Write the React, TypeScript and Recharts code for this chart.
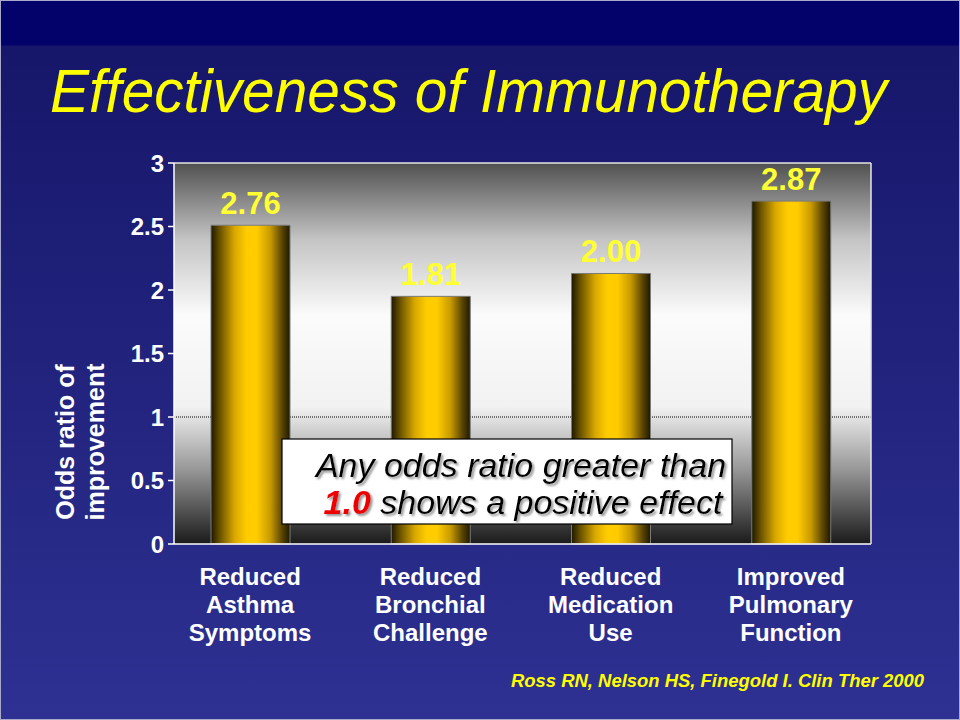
import React from "react";
import {
  BarChart,
  Bar,
  XAxis,
  YAxis,
  CartesianGrid,
  LabelList,
} from "recharts";

// ---- data ----
const categories = [
  "Reduced\nAsthma\nSymptoms",
  "Reduced\nBronchial\nChallenge",
  "Reduced\nMedication\nUse",
  "Improved\nPulmonary\nFunction",
];
// bar heights as drawn against the axis
const barHeights = [2.51, 1.95, 2.13, 2.7];
// odds ratios printed above the bars
const valueLabels = ["2.76", "1.81", "2.00", "2.87"];
const yTicks = [0, 0.5, 1, 1.5, 2, 2.5, 3];
const boundaryTicks = [0, 1, 2, 3, 4];

const title = "Effectiveness of Immunotherapy";
const yLabelLines = ["Odds ratio of", "improvement"];
const noteLine1 = "Any odds ratio greater than";
const noteEmph = "1.0";
const noteLine2 = " shows a positive effect";
const citation = "Ross RN, Nelson HS, Finegold I. Clin Ther 2000";

const data = categories.map((c, i) => ({
  category: c,
  height: barHeights[i],
  label: valueLabels[i],
}));

const FONT = '"Liberation Sans", Arial, Helvetica, sans-serif';

const CategoryTick = (props: any) => {
  const { x, y, payload } = props;
  const lines = String(payload.value).split("\n");
  return (
    <text
      x={x}
      y={y}
      textAnchor="middle"
      fill="#ffffff"
      fontFamily={FONT}
      fontWeight="bold"
      fontSize={24}
    >
      {lines.map((l, i) => (
        <tspan key={i} x={x} dy={i === 0 ? 40 : 28}>
          {l}
        </tspan>
      ))}
    </text>
  );
};

export default function App() {
  return (
    <div
      style={{
        position: "absolute",
        left: 0,
        top: 0,
        width: 960,
        height: 720,
        overflow: "hidden",
        boxSizing: "border-box",
        border: "1px solid #a8a8c8",
        background:
          "linear-gradient(180deg, #02026a 0px, #02026a 44px, #16166a 45px, #2e3192 720px)",
        fontFamily: FONT,
      }}
    >
      <div style={{ position: "absolute", left: -1, top: -1 }}>
        <BarChart
          width={960}
          height={720}
          data={data}
          margin={{ top: 162, right: 88, bottom: 174, left: 0 }}
          barSize={79}
        >
          <defs>
            <linearGradient id="plotBg" x1="0" y1="0" x2="0" y2="1">
              <stop offset="0%" stopColor="#505050" />
              <stop offset="20%" stopColor="#c4c4c4" />
              <stop offset="40%" stopColor="#fbfbfb" />
              <stop offset="64%" stopColor="#f2f2f2" />
              <stop offset="80%" stopColor="#9a9a9a" />
              <stop offset="100%" stopColor="#1a1a1a" />
            </linearGradient>
            <linearGradient id="goldBar" x1="0" y1="0" x2="1" y2="0">
              <stop offset="0%" stopColor="#1e1800" />
              <stop offset="12%" stopColor="#6e5600" />
              <stop offset="30%" stopColor="#d9a800" />
              <stop offset="45%" stopColor="#ffcc00" />
              <stop offset="58%" stopColor="#ffcc00" />
              <stop offset="75%" stopColor="#c89a00" />
              <stop offset="90%" stopColor="#5a4500" />
              <stop offset="100%" stopColor="#1e1800" />
            </linearGradient>
          </defs>
          <CartesianGrid
            fill="url(#plotBg)"
            vertical={false}
            horizontalValues={[1]}
            stroke="#000000"
            strokeDasharray="1 1"
            yAxisId="y"
            xAxisId="cat"
          />
          <XAxis
            xAxisId="cat"
            dataKey="category"
            height={1}
            interval={0}
            padding={{ left: -14, right: -10 }}
            axisLine={false}
            tickLine={false}
            tickSize={0}
            tickMargin={0}
            tick={<CategoryTick />}
          />
          <XAxis
            xAxisId="bounds"
            type="number"
            domain={[0, 4]}
            ticks={boundaryTicks}
            allowDataOverflow
            height={1}
            tick={false}
            tickSize={6}
            axisLine={{ stroke: "#ffffff", strokeWidth: 1.5 }}
            tickLine={{ stroke: "#ffffff", strokeWidth: 1.5 }}
          />
          <XAxis
            xAxisId="top"
            orientation="top"
            dataKey="category"
            height={1}
            tick={false}
            tickLine={false}
            axisLine={{ stroke: "#e6e6e6", strokeWidth: 1.5 }}
          />
          <YAxis
            yAxisId="y"
            width={174}
            domain={[0, 3]}
            ticks={yTicks}
            interval={0}
            tickSize={6}
            tickMargin={4}
            axisLine={{ stroke: "#ffffff", strokeWidth: 1.5 }}
            tickLine={{ stroke: "#ffffff", strokeWidth: 1.5 }}
            tick={{
              fill: "#ffffff",
              fontSize: 24,
              fontWeight: "bold",
              fontFamily: FONT,
            }}
          />
          <YAxis
            yAxisId="right"
            orientation="right"
            width={1}
            tick={false}
            tickLine={false}
            axisLine={{ stroke: "#e6e6e6", strokeWidth: 1.5 }}
          />
          <Bar
            xAxisId="cat"
            yAxisId="y"
            dataKey="height"
            fill="url(#goldBar)"
            stroke="#7a7a7a"
            strokeWidth={1}
            isAnimationActive={false}
          >
            <LabelList
              dataKey="label"
              position="top"
              offset={11}
              fill="#ffff33"
              fontSize={31}
              fontWeight="bold"
              fontFamily={FONT}
            />
          </Bar>
        </BarChart>
      </div>

      <svg
        width={960}
        height={720}
        style={{ position: "absolute", left: -1, top: -1, pointerEvents: "none" }}
      >
        <defs>
          <filter id="txtShadow" x="-5%" y="-20%" width="110%" height="150%">
            <feDropShadow dx="2" dy="2" stdDeviation="0.8" floodColor="#8a8a8a" floodOpacity="0.9" />
          </filter>
        </defs>
        {/* title */}
        <text
          x={50}
          y={112}
          fill="#ffff00"
          fontFamily={FONT}
          fontStyle="italic"
          fontSize={62}
          textLength={837}
          lengthAdjust="spacingAndGlyphs"
        >
          {title}
        </text>

        {/* y axis title */}
        <g transform="translate(74,442) rotate(-90)">
          <text
            x={0}
            y={0}
            textAnchor="middle"
            fill="#ffffff"
            fontFamily={FONT}
            fontWeight="bold"
            fontSize={25}
          >
            {yLabelLines[0]}
          </text>
        </g>
        <g transform="translate(104,442) rotate(-90)">
          <text
            x={0}
            y={0}
            textAnchor="middle"
            fill="#ffffff"
            fontFamily={FONT}
            fontWeight="bold"
            fontSize={25}
          >
            {yLabelLines[1]}
          </text>
        </g>

        {/* note box */}
        <rect x={282} y={439} width={450} height={85} fill="#ffffff" stroke="#000000" strokeWidth={1.2} />
        <g filter="url(#txtShadow)">
          <text
            x={521}
            y={477}
            textAnchor="middle"
            fill="#000000"
            fontFamily={FONT}
            fontStyle="italic"
            fontSize={34}
          >
            {noteLine1}
          </text>
          <text
            x={523}
            y={514}
            textAnchor="middle"
            fill="#000000"
            fontFamily={FONT}
            fontStyle="italic"
            fontSize={34}
          >
            <tspan fill="#ee0000" fontWeight="bold">
              {noteEmph}
            </tspan>
            <tspan>{noteLine2}</tspan>
          </text>
        </g>

        {/* citation */}
        <text
          x={511}
          y={687}
          fill="#ffff00"
          fontFamily={FONT}
          fontStyle="italic"
          fontWeight="bold"
          fontSize={19}
          textLength={413}
          lengthAdjust="spacingAndGlyphs"
        >
          {citation}
        </text>
      </svg>
    </div>
  );
}
